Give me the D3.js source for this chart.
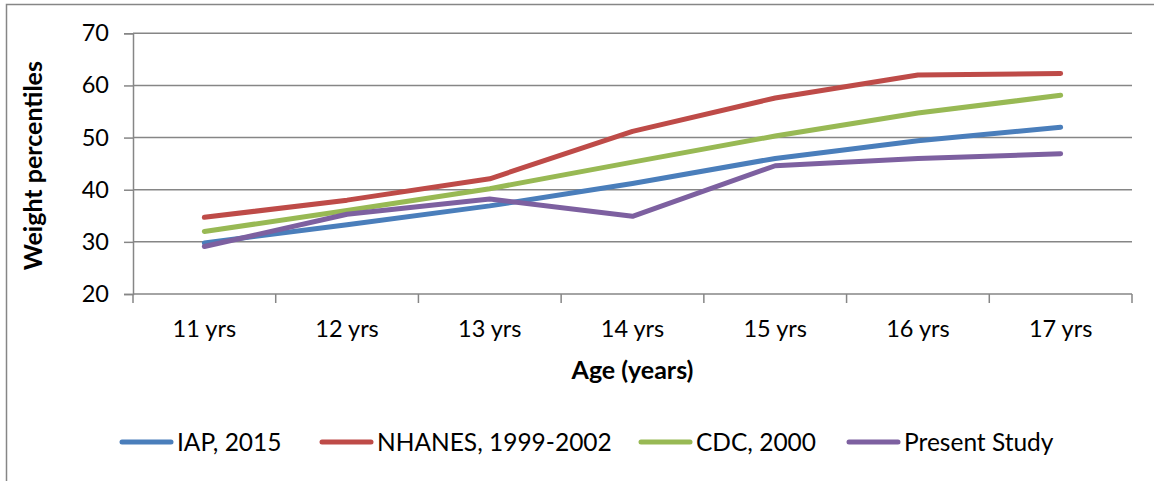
<!DOCTYPE html>
<html>
<head>
<meta charset="utf-8">
<script src="https://cdn.jsdelivr.net/npm/d3@7/dist/d3.min.js"></script>
<style>
  html, body { margin: 0; padding: 0; background: #fff; }
  svg { display: block; font-family: Lato, "Open Sans", sans-serif; }
</style>
</head>
<body>
<svg id="chart" width="1154" height="481"></svg>
<script>
// Age groups on the category axis
const ages = ["11 yrs", "12 yrs", "13 yrs", "14 yrs", "15 yrs", "16 yrs", "17 yrs"];

// Weight percentiles per reference / study
const iap2015   = [29.8, 33.3, 36.9, 41.2, 46.0, 49.4, 52.0];
const nhanes    = [34.7, 38.0, 42.1, 51.2, 57.6, 62.0, 62.3];
const cdc2000   = [32.0, 36.0, 40.2, 45.3, 50.3, 54.7, 58.1];
const present   = [29.1, 35.3, 38.2, 34.9, 44.6, 46.0, 46.9];

const seriesNames  = ["IAP, 2015", "NHANES, 1999-2002", "CDC, 2000", "Present Study"];
const seriesValues = [iap2015, nhanes, cdc2000, present];
const seriesColors = ["#4A7EBB", "#BE4B48", "#98B954", "#7D60A0"];

const yTicks = [20, 30, 40, 50, 60, 70];

const svg = d3.select("#chart");
const gridColor = "#868686";
const tickFont = 23.5;
const titleFont = 25;
const legendFont = 24.5;

// outer chart frame (left and top edges visible)
svg.append("path")
  .attr("d", "M6.5,481 V4.5 H1154")
  .attr("fill", "none")
  .attr("stroke", gridColor)
  .attr("stroke-width", 1.5);

const plot = { left: 133, right: 1132, top: 33.3, bottom: 294 };

const x = d3.scaleBand().domain(ages).range([plot.left, plot.right]).padding(0);
const y = d3.scaleLinear().domain([20, 70]).range([plot.bottom, plot.top]);

// horizontal gridlines
svg.append("g")
  .selectAll("line")
  .data(yTicks.filter(t => t > 20))
  .join("line")
  .attr("x1", plot.left).attr("x2", plot.right)
  .attr("y1", d => y(d)).attr("y2", d => y(d))
  .attr("stroke", gridColor).attr("stroke-width", 1.5);

// y axis
const yAxis = svg.append("g")
  .attr("transform", `translate(${plot.left},0)`)
  .call(d3.axisLeft(y).tickValues(yTicks).tickSize(9).tickPadding(15));
yAxis.select(".domain").attr("stroke", gridColor).attr("stroke-width", 1.5);
yAxis.selectAll(".tick line").attr("stroke", gridColor).attr("stroke-width", 1.5);
yAxis.selectAll(".tick text")
  .attr("font-size", tickFont).attr("fill", "#000").attr("font-family", "Lato, sans-serif");

// x axis with ticks at category boundaries
const xAxisG = svg.append("g").attr("transform", `translate(0,${plot.bottom})`);
xAxisG.append("line")
  .attr("x1", plot.left).attr("x2", plot.right)
  .attr("stroke", gridColor).attr("stroke-width", 1.5);
const boundaries = ages.map(a => x(a)).concat([x(ages[ages.length - 1]) + x.bandwidth()]);
xAxisG.selectAll("line.tk")
  .data(boundaries)
  .join("line").attr("class", "tk")
  .attr("x1", d => d).attr("x2", d => d)
  .attr("y1", 0).attr("y2", 9)
  .attr("stroke", gridColor).attr("stroke-width", 1.5);
xAxisG.selectAll("text")
  .data(ages)
  .join("text")
  .attr("x", d => x(d) + x.bandwidth() / 2)
  .attr("y", 43)
  .attr("text-anchor", "middle")
  .attr("font-size", tickFont)
  .text(d => d);

// series lines
const line = d3.line()
  .x((d, i) => x(ages[i]) + x.bandwidth() / 2)
  .y(d => y(d));

svg.append("g")
  .selectAll("path")
  .data(seriesValues)
  .join("path")
  .attr("d", d => line(d))
  .attr("fill", "none")
  .attr("stroke", (d, i) => seriesColors[i])
  .attr("stroke-width", 5)
  .attr("stroke-linecap", "round")
  .attr("stroke-linejoin", "round");

// axis titles
svg.append("text")
  .attr("transform", `translate(42,${(plot.top + plot.bottom) / 2 + 2}) rotate(-90)`)
  .attr("text-anchor", "middle")
  .attr("font-size", titleFont).attr("font-weight", "bold")
  .text("Weight percentiles");

svg.append("text")
  .attr("x", (plot.left + plot.right) / 2)
  .attr("y", 379)
  .attr("text-anchor", "middle")
  .attr("font-size", titleFont).attr("font-weight", "bold")
  .text("Age (years)");

// legend
const legendX = [120, 320, 639, 847];
const legend = svg.append("g");
seriesNames.forEach((name, i) => {
  legend.append("line")
    .attr("x1", legendX[i] + 2).attr("x2", legendX[i] + 51)
    .attr("y1", 442).attr("y2", 442)
    .attr("stroke", seriesColors[i]).attr("stroke-width", 5)
    .attr("stroke-linecap", "round");
  legend.append("text")
    .attr("x", legendX[i] + 57)
    .attr("y", 450.5)
    .attr("font-size", legendFont)
    .text(name);
});
</script>
</body>
</html>
